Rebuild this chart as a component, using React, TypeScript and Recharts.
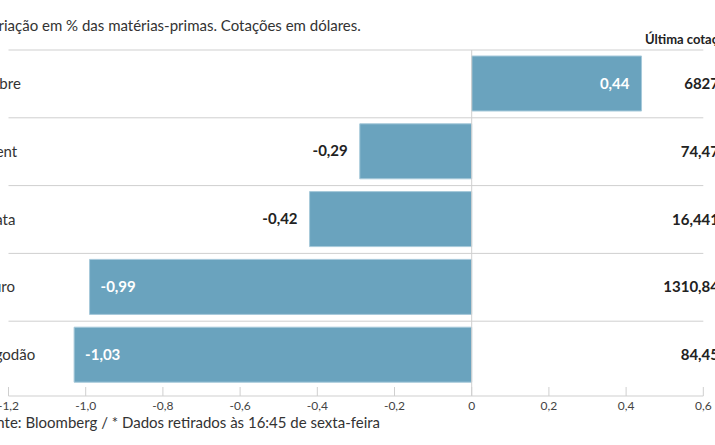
import React from 'react';
import { BarChart, Bar, XAxis, YAxis, CartesianGrid, ReferenceLine, LabelList } from 'recharts';

const categories = ['Cobre', 'Brent', 'Prata', 'Ouro', 'Algodão'];
const changes = [0.44, -0.29, -0.42, -0.99, -1.03];
const lastPrices = ['6827', '74,47', '16,441', '1310,84', '84,45'];
const xTicks = [-1.2, -1.0, -0.8, -0.6, -0.4, -0.2, 0, 0.2, 0.4, 0.6];
const titleText = 'Variação em % das matérias-primas. Cotações em dólares.';
const priceHeader = 'Última cotação*';
const sourceText = 'Fonte: Bloomberg / * Dados retirados às 16:45 de sexta-feira';

const data = categories.map((name, i) => ({ name, value: changes[i], price: lastPrices[i] }));

const FONT = 'Lato, "Open Sans", sans-serif';
const PAD_BOTTOM = 7;
const BAR_FILL = '#6aa3be';
const BAR_STROKE = '#a6c9da';
const GRID = '#cfcfcf';

const fmtTick = (v: number) => (v === 0 ? '0' : v.toFixed(1).replace('.', ','));
const fmtVal = (v: number) => v.toFixed(2).replace('.', ',');

const XTick = (props: any) => {
  const { x, y, payload } = props;
  return (
    <g>
      <line x1={x} x2={x} y1={y - 9} y2={y} stroke={GRID} strokeWidth={1} />
      <text x={x} y={y + 14} textAnchor="middle" fontSize={12} fill="#444" fontFamily={FONT}>
        {fmtTick(payload.value)}
      </text>
    </g>
  );
};

const LeftTick = (props: any) => {
  const { x, y, payload } = props;
  return (
    <text x={x - 27.5} y={y} dy={5} textAnchor="start" fontSize={15} fill="#333" fontFamily={FONT}>
      {payload.value}
    </text>
  );
};

const RightTick = (props: any) => {
  const { x, y, index } = props;
  return (
    <text x={x + 15.7} y={y} dy={5} textAnchor="end" fontSize={15} fontWeight={700} fill="#222" fontFamily={FONT}>
      {lastPrices[index]}
    </text>
  );
};

const BarLabel = (props: any) => {
  const { x, y, width, height, value } = props;
  const left = Math.min(x, x + width);
  const right = Math.max(x, x + width);
  const cy = y + height / 2;
  const inside = value > 0 || value < -0.5;
  let tx = 0;
  let anchor: 'start' | 'end' = 'start';
  let fill = '#222';
  if (inside) {
    fill = '#fff';
    if (value > 0) { tx = right - 12; anchor = 'end'; } else { tx = left + 11; anchor = 'start'; }
  } else {
    if (value < 0) { tx = left - 12; anchor = 'end'; } else { tx = right + 12; anchor = 'start'; }
  }
  return (
    <text x={tx} y={cy} dy={5} textAnchor={anchor} fontSize={15} fontWeight={700} fill={fill} fontFamily={FONT}>
      {fmtVal(value)}
    </text>
  );
};

export default function App() {
  return (
    <div style={{ position: 'fixed', left: 0, top: 0, width: 715, height: 445, overflow: 'hidden', background: '#fff' }}>
      <div style={{ position: 'absolute', left: -40, top: 0, width: 800, height: 445, fontFamily: FONT }}>
        <div style={{ position: 'absolute', left: 22, top: 16, fontSize: 15, lineHeight: '18px', color: '#333', whiteSpace: 'nowrap' }}>
          {titleText}
        </div>
        <div style={{ position: 'absolute', left: 685, top: 31, fontSize: 13, fontWeight: 700, lineHeight: '16px', color: '#222', whiteSpace: 'nowrap' }}>
          {priceHeader}
        </div>
        <BarChart
          width={800}
          height={445}
          data={data}
          layout="vertical"
          margin={{ top: 50, right: 0, bottom: 19, left: 24 }}
        >
          <CartesianGrid
            vertical={false}
            stroke={GRID}
            horizontalCoordinatesGenerator={({ offset }: any) => {
              const inner = offset.height - PAD_BOTTOM;
              return categories.map((_, i) => offset.top + (i * inner) / categories.length);
            }}
          />
          <XAxis
            type="number"
            domain={[-1.2, 0.6]}
            ticks={xTicks}
            tickSize={0}
            tickMargin={0}
            tickLine={false}
            axisLine={{ stroke: GRID }}
            tick={<XTick />}
            height={30}
            interval={0}
            allowDataOverflow
          />
          <YAxis
            yAxisId="left"
            type="category"
            dataKey="name"
            width={24.5}
            axisLine={false}
            tickLine={false}
            tickSize={0}
            tickMargin={0}
            tick={<LeftTick />}
            padding={{ top: 0, bottom: PAD_BOTTOM }}
            interval={0}
          />
          <YAxis
            yAxisId="right"
            orientation="right"
            type="category"
            dataKey="name"
            width={56.7}
            axisLine={false}
            tickLine={false}
            tickSize={0}
            tickMargin={0}
            tick={<RightTick />}
            padding={{ top: 0, bottom: PAD_BOTTOM }}
            interval={0}
          />
          <ReferenceLine x={0} yAxisId="left" stroke={GRID} strokeWidth={1} />
          <Bar
            dataKey="value"
            yAxisId="left"
            fill={BAR_FILL}
            stroke={BAR_STROKE}
            strokeWidth={1}
            barSize={55}
            isAnimationActive={false}
          >
            <LabelList dataKey="value" content={<BarLabel />} />
          </Bar>
        </BarChart>
        <div style={{ position: 'absolute', left: 20, top: 413, fontSize: 15, lineHeight: '18px', color: '#333', whiteSpace: 'nowrap' }}>
          {sourceText}
        </div>
      </div>
    </div>
  );
}
